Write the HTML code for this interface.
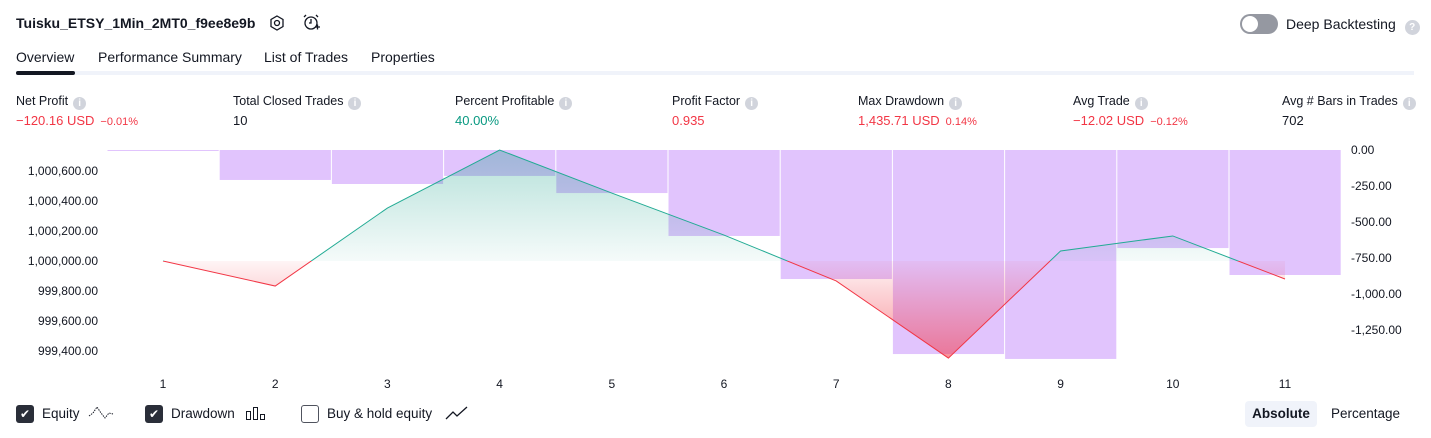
<!DOCTYPE html>
<html><head><meta charset="utf-8">
<style>
*{box-sizing:border-box;margin:0;padding:0}
body{width:1431px;height:438px;background:#fff;font-family:"Liberation Sans",sans-serif;color:#131722;position:relative;overflow:hidden}
.abs{position:absolute;white-space:nowrap}
.title{left:16px;top:15px;font-size:14px;font-weight:bold}
.tab{top:49px;font-size:14px;color:#131722}
.lbl{top:94px;font-size:12.5px}
.val{top:113px;font-size:13px}
.red{color:#f23645}.green{color:#089981}
.small{font-size:11px;margin-left:6px}
.info{display:inline-block;width:13px;height:13px;border-radius:50%;background:#d1d4dc;color:#fff;font-size:10px;text-align:center;line-height:13px;margin-left:5px;vertical-align:-1px;font-weight:bold}
.cb{width:18px;height:18px;border-radius:3px;top:405px}
.leg{top:406px;font-size:13.5px}
</style></head><body>
<div class="abs title">Tuisku_ETSY_1Min_2MT0_f9ee8e9b</div>
<svg class="abs" style="left:268px;top:14px" width="18" height="18"><polygon points="9,2 15,5.5 15,12.5 9,16 3,12.5 3,5.5" fill="none" stroke="#131722" stroke-width="1.3"/><circle cx="9" cy="9" r="2.5" fill="none" stroke="#131722" stroke-width="1.3"/></svg>
<svg class="abs" style="left:301px;top:13px" width="20" height="20"><circle cx="10" cy="10" r="6" fill="none" stroke="#131722" stroke-width="1.3"/><path d="M10 6v4h-2M3 4l2-2M17 4l-2-2M14 14h5M16.5 11.5v5" fill="none" stroke="#131722" stroke-width="1.3"/></svg>
<div class="abs" style="left:1240px;top:14px;width:38px;height:20px;border-radius:10px;background:#9598a1"><div style="position:absolute;left:2px;top:2px;width:16px;height:16px;border-radius:50%;background:#fff"></div></div>
<div class="abs" style="left:1286px;top:16px;font-size:14px">Deep Backtesting <span class="info" style="width:15px;height:15px;line-height:15px">?</span></div>
<div class="abs tab" style="left:16px">Overview</div>
<div class="abs tab" style="left:98px">Performance Summary</div>
<div class="abs tab" style="left:264px">List of Trades</div>
<div class="abs tab" style="left:371px">Properties</div>
<div class="abs" style="left:16px;top:71px;width:1398px;height:4px;background:#f0f3fa"></div>
<div class="abs" style="left:16px;top:71px;width:59px;height:4px;border-radius:2px;background:#131722"></div>

<div class="abs lbl" style="left:16px">Net Profit<span class="info">i</span></div>
<div class="abs val red" style="left:16px">−120.16 USD<span class="small">−0.01%</span></div>
<div class="abs lbl" style="left:233px">Total Closed Trades<span class="info">i</span></div>
<div class="abs val" style="left:233px">10</div>
<div class="abs lbl" style="left:455px">Percent Profitable<span class="info">i</span></div>
<div class="abs val green" style="left:455px">40.00%</div>
<div class="abs lbl" style="left:672px">Profit Factor<span class="info">i</span></div>
<div class="abs val red" style="left:672px">0.935</div>
<div class="abs lbl" style="left:858px">Max Drawdown<span class="info">i</span></div>
<div class="abs val red" style="left:858px">1,435.71 USD<span class="small">0.14%</span></div>
<div class="abs lbl" style="left:1073px">Avg Trade<span class="info">i</span></div>
<div class="abs val red" style="left:1073px">−12.02 USD<span class="small">−0.12%</span></div>
<div class="abs lbl" style="left:1282px">Avg # Bars in Trades<span class="info">i</span></div>
<div class="abs val" style="left:1282px">702</div>

<svg id="chart" class="abs" style="left:0;top:0" width="1431" height="438">
<defs>
<linearGradient id="gg" gradientUnits="userSpaceOnUse" x1="0" y1="150" x2="0" y2="261"><stop offset="0" stop-color="#089981" stop-opacity="0.3"/><stop offset="1" stop-color="#089981" stop-opacity="0.04"/></linearGradient>
<linearGradient id="rg" gradientUnits="userSpaceOnUse" x1="0" y1="261" x2="0" y2="358"><stop offset="0" stop-color="#f23645" stop-opacity="0.05"/><stop offset="1" stop-color="#f23645" stop-opacity="0.55"/></linearGradient>
<clipPath id="above"><rect x="0" y="0" width="1431" height="261"/></clipPath>
<clipPath id="below"><rect x="0" y="261" width="1431" height="200"/></clipPath>
</defs>
<g id="bars"></g><g id="eq"></g><g id="axes"></g>
</svg>

<div class="abs cb" style="left:16px;background:#2a2e39;color:#fff;font-size:12px;text-align:center;line-height:18px">✔</div>
<div class="abs leg" style="left:42px">Equity</div>
<svg class="abs" style="left:88px;top:404px" width="26" height="18"><polyline points="1,12 5,9 9,3 13,9 17,14 21,9 25,10" fill="none" stroke="#131722" stroke-width="1" stroke-dasharray="1.5,1"/></svg>
<div class="abs cb" style="left:145px;background:#2a2e39;color:#fff;font-size:12px;text-align:center;line-height:18px">✔</div>
<div class="abs leg" style="left:171px">Drawdown</div>
<svg class="abs" style="left:245px;top:405px" width="22" height="16"><rect x="1.5" y="6.5" width="4" height="8" fill="none" stroke="#131722"/><rect x="8.5" y="2.5" width="4" height="12" fill="none" stroke="#131722"/><rect x="15.5" y="9.5" width="4" height="5" fill="none" stroke="#131722"/></svg>
<div class="abs cb" style="left:301px;border:1px solid #50535e"></div>
<div class="abs leg" style="left:327px">Buy &amp; hold equity</div>
<svg class="abs" style="left:445px;top:404px" width="24" height="18"><polyline points="1,15 8,8 12,12 22,3" fill="none" stroke="#131722" stroke-width="1.3"/></svg>
<div class="abs" style="left:1245px;top:401px;width:72px;height:26px;border-radius:4px;background:#f0f3fa;font-size:13.5px;font-weight:bold;text-align:center;line-height:26px">Absolute</div>
<div class="abs" style="left:1331px;top:406px;font-size:13.5px">Percentage</div>

<script>
const categories=[1,2,3,4,5,6,7,8,9,10,11];
const equity=[1000000,999833,1000353,1000740,1000453,1000173,999867,999353,1000067,1000167,999880];
const drawdown=[0,-208,-236,-180,-299,-597,-896,-1417,-1451,-681,-868];
const leftTicks=[999400,999600,999800,1000000,1000200,1000400,1000600];
const rightTicks=[0,-250,-500,-750,-1000,-1250];
const NS="http://www.w3.org/2000/svg";
const x0=163,step=112.2;
const xs=i=>x0+i*step;
const yL=v=>261-(v-1000000)*0.15;
const yR=v=>150-v*0.144;
const fmt=v=>v.toLocaleString('en-US',{minimumFractionDigits:2,maximumFractionDigits:2});
function mk(t,a,p){const e=document.createElementNS(NS,t);for(const k in a)e.setAttribute(k,a[k]);p.appendChild(e);return e;}
const bars=document.getElementById('bars'),eq=document.getElementById('eq'),axes=document.getElementById('axes');
drawdown.forEach((d,i)=>{
  const h=Math.max(1,yR(d)-yR(0));
  const r=mk('rect',{x:xs(i)-55.5,y:yR(0),width:step-1,height:h,fill:'#e1c4fd'},bars);
  
  
});
const pts=equity.map((v,i)=>xs(i)+','+yL(v)).join(' ');
const area='M'+xs(0)+','+yL(1000000)+' L'+pts.split(' ').join(' L')+' L'+xs(equity.length-1)+','+yL(1000000)+' Z';
const a1=mk('path',{d:area,fill:'url(#gg)','clip-path':'url(#above)'},eq);


const a2=mk('path',{d:area,fill:'url(#rg)','clip-path':'url(#below)'},eq);


const l1=mk('polyline',{points:pts,fill:'none',stroke:'#22ab94','stroke-width':1,'clip-path':'url(#above)'},eq);


const l2=mk('polyline',{points:pts,fill:'none',stroke:'#f23645','stroke-width':1,'clip-path':'url(#below)'},eq);


leftTicks.forEach(v=>{
  const t=mk('text',{x:98,y:yL(v)+4,'text-anchor':'end','font-size':12,fill:'#131722','font-family':'Liberation Sans'},axes);
  t.textContent=fmt(v);
  
  
});
rightTicks.forEach(v=>{
  const t=mk('text',{x:1351,y:yR(v)+4,'font-size':12,fill:'#131722','font-family':'Liberation Sans'},axes);
  t.textContent=v===0?'0.00':'-'+fmt(-v);
  
  
});
categories.forEach((c,i)=>{
  const t=mk('text',{x:xs(i),y:388,'text-anchor':'middle','font-size':12,fill:'#131722','font-family':'Liberation Sans'},axes);
  t.textContent=c;
  
  
});
</script>
</body></html>
